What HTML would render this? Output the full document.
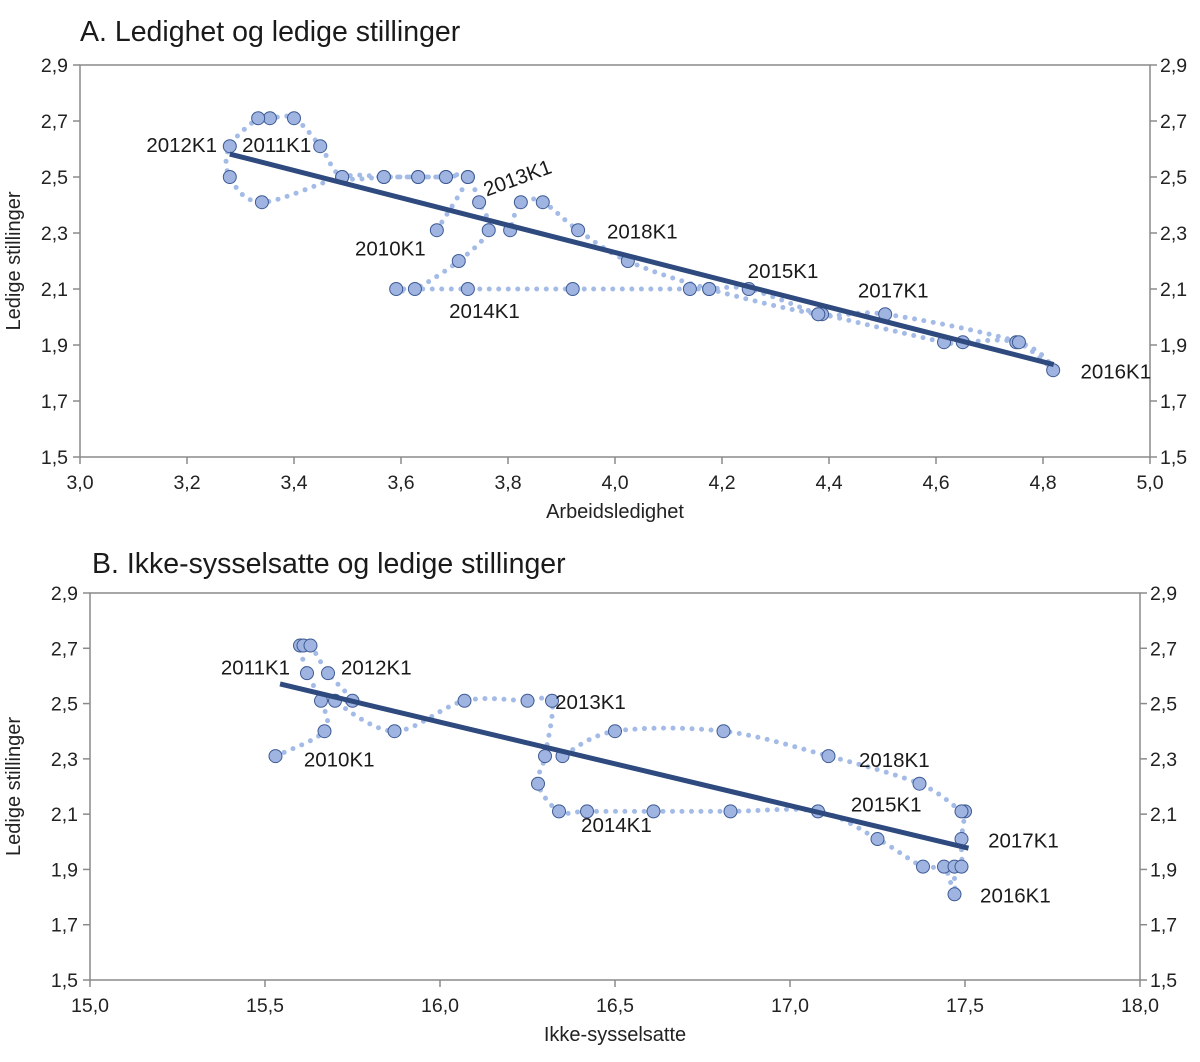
<!DOCTYPE html>
<html><head><meta charset="utf-8"><style>
html,body{margin:0;padding:0;background:#fff;}
svg{display:block;font-family:"Liberation Sans",Arial,sans-serif;}
</style></head><body>
<svg id="chart" width="1200" height="1062" viewBox="0 0 1200 1062"></svg>
<script>
// ---- Panel A data ----
const aX = [3.667,3.725,3.684,3.632,3.568,3.49,3.449,3.40,3.355,3.333,3.28,3.28,3.34,3.49,3.568,3.632,3.684,3.725,3.746,3.764,3.708,3.626,3.591,3.725,3.921,4.14,4.176,4.25,4.38,4.387,4.615,4.65,4.75,4.819,4.755,4.505,4.38,4.176,4.024,3.931,3.865,3.824,3.804];
const aY = [2.31,2.50,2.50,2.50,2.50,2.50,2.61,2.71,2.71,2.71,2.61,2.50,2.41,2.50,2.50,2.50,2.50,2.50,2.41,2.31,2.20,2.10,2.10,2.10,2.10,2.10,2.10,2.10,2.01,2.01,1.91,1.91,1.91,1.81,1.91,2.01,2.01,2.10,2.20,2.31,2.41,2.41,2.31];
const aLabels = ["2012K1","2011K1","2010K1","2018K1","2014K1","2015K1","2017K1","2016K1","2013K1"];
const aLabelX = [3.124,3.303,3.514,3.985,3.69,4.248,4.454,4.87,3.76];
const aLabelY = [2.59,2.59,2.22,2.28,1.996,2.14,2.07,1.78,2.43];
const aFitX = [3.28,4.82];
const aFitY = [2.582,1.83];
const aXTicks = ["3,0","3,2","3,4","3,6","3,8","4,0","4,2","4,4","4,6","4,8","5,0"];
const yTicks = ["1,5","1,7","1,9","2,1","2,3","2,5","2,7","2,9"];
// ---- Panel B data ----
const bX = [15.53,15.67,15.66,15.62,15.60,15.61,15.63,15.68,15.75,15.70,15.87,16.07,16.25,16.32,16.30,16.28,16.34,16.42,16.61,16.83,17.08,17.25,17.38,17.44,17.47,17.47,17.49,17.49,17.50,17.49,17.37,17.11,16.81,16.50,16.35];
const bY = [2.31,2.40,2.51,2.61,2.71,2.71,2.71,2.61,2.51,2.51,2.40,2.51,2.51,2.51,2.31,2.21,2.11,2.11,2.11,2.11,2.11,2.01,1.91,1.91,1.81,1.91,1.91,2.01,2.11,2.11,2.21,2.31,2.40,2.40,2.31];
const bLabels = ["2011K1","2012K1","2010K1","2013K1","2014K1","2018K1","2015K1","2017K1","2016K1"];
const bLabelX = [15.374,15.717,15.611,16.329,16.403,17.197,17.174,17.566,17.543];
const bLabelY = [2.605,2.605,2.273,2.48,2.035,2.27,2.11,1.98,1.78];
const bFitX = [15.543,17.51];
const bFitY = [2.571,1.977];
const bXTicks = ["15,0","15,5","16,0","16,5","17,0","17,5","18,0"];

const NS="http://www.w3.org/2000/svg";
const svg=document.getElementById('chart');
function mk(tag,attrs,parent){const e=document.createElementNS(NS,tag);for(const k in attrs)e.setAttribute(k,attrs[k]);(parent||svg).appendChild(e);return e;}
function txt(s,attrs,parent){const e=mk('text',attrs,parent);e.textContent=s;return e;}

function panel(o){
  const g=mk('g',{});
  
  
  const sx=v=>o.L+(v-o.x0)/(o.x1-o.x0)*(o.R-o.L);
  const sy=v=>o.B-(v-1.5)/(2.9-1.5)*(o.B-o.T);
  const t=txt(o.title,{x:o.titleX,y:o.titleY,'font-size':28.5,fill:'#1a1a1a'},g);
  
  
  const frame=mk('rect',{x:o.L,y:o.T,width:o.R-o.L,height:o.B-o.T,fill:'none',stroke:'#8a8a8a','stroke-width':1.5},g);
  
  
  yTicks.forEach((lab,i)=>{
    const v=1.5+0.2*i, y=sy(v);
    mk('line',{x1:o.L-7,x2:o.L,y1:y,y2:y,stroke:'#8a8a8a','stroke-width':1.5},g);
    mk('line',{x1:o.R,x2:o.R+7,y1:y,y2:y,stroke:'#8a8a8a','stroke-width':1.5},g);
    const l=txt(lab,{x:o.L-12,y:y+7,'font-size':19.5,'text-anchor':'end',fill:'#222'},g);
    
    
    const r=txt(lab,{x:o.R+10,y:y+7,'font-size':19.5,fill:'#222'},g);
    
    
  });
  o.xTicks.forEach((lab,i)=>{
    const v=o.x0+(o.x1-o.x0)*i/(o.xTicks.length-1), x=sx(v);
    mk('line',{x1:x,x2:x,y1:o.B,y2:o.B+7,stroke:'#8a8a8a','stroke-width':1.5},g);
    const l=txt(lab,{x:x,y:o.B+32,'font-size':19.5,'text-anchor':'middle',fill:'#222'},g);
    
    
  });
  const xt=txt(o.xTitle,{x:(o.L+o.R)/2,y:o.B+61,'font-size':20,'text-anchor':'middle',fill:'#222'},g);
  
  
  const yc=(o.T+o.B)/2;
  const yt=txt('Ledige stillinger',{x:20,y:yc,'font-size':20,'text-anchor':'middle',fill:'#222',transform:`rotate(-90 20 ${yc})`},g);
  
  
  const pts=o.xs.map((v,i)=>[sx(v),sy(o.ys[i])]);
  let d='M'+pts[0][0]+','+pts[0][1];
  for(let i=0;i<pts.length-1;i++){
    const p0=pts[Math.max(0,i-1)],p1=pts[i],p2=pts[i+1],p3=pts[Math.min(pts.length-1,i+2)];
    const c1=[p1[0]+(p2[0]-p0[0])/6,p1[1]+(p2[1]-p0[1])/6];
    const c2=[p2[0]-(p3[0]-p1[0])/6,p2[1]-(p3[1]-p1[1])/6];
    d+=` C${c1[0]},${c1[1]} ${c2[0]},${c2[1]} ${p2[0]},${p2[1]}`;
  }
  const path=mk('path',{d:d,fill:'none',stroke:'#a3bbe6','stroke-width':5,'stroke-linecap':'round','stroke-dasharray':'0 9.5'},g);
  
  
  pts.forEach(p=>{
    const c=mk('circle',{cx:p[0],cy:p[1],r:6.5,fill:'#9fb4e0',stroke:'#3d5a94','stroke-width':1},g);
    
    
  });
  const fit=mk('line',{x1:sx(o.fx[0]),y1:sy(o.fy[0]),x2:sx(o.fx[1]),y2:sy(o.fy[1]),stroke:'#2e4a7e','stroke-width':5},g);
  
  
  o.labels.forEach((lab,i)=>{
    const x=sx(o.lx[i]), y=sy(o.ly[i]);
    const a={x:x,y:y,'font-size':20.5,fill:'#1a1a1a'};
    if(o.rot&&o.rot[i]) a.transform=`rotate(${o.rot[i]} ${x} ${y})`;
    const l=txt(lab,a,g);
    
    
  });
}
panel({name:'panel-a',title:'A. Ledighet og ledige stillinger',titleX:80,titleY:41,L:80,R:1150,T:65,B:457,x0:3,x1:5,
  xTicks:aXTicks,xTitle:'Arbeidsledighet',xs:aX,ys:aY,fx:aFitX,fy:aFitY,labels:aLabels,lx:aLabelX,ly:aLabelY,rot:[0,0,0,0,0,0,0,0,-20]});
panel({name:'panel-b',title:'B. Ikke-sysselsatte og ledige stillinger',titleX:92,titleY:573,L:90,R:1140,T:593,B:980,x0:15,x1:18,
  xTicks:bXTicks,xTitle:'Ikke-sysselsatte',xs:bX,ys:bY,fx:bFitX,fy:bFitY,labels:bLabels,lx:bLabelX,ly:bLabelY});
</script>
</body></html>
